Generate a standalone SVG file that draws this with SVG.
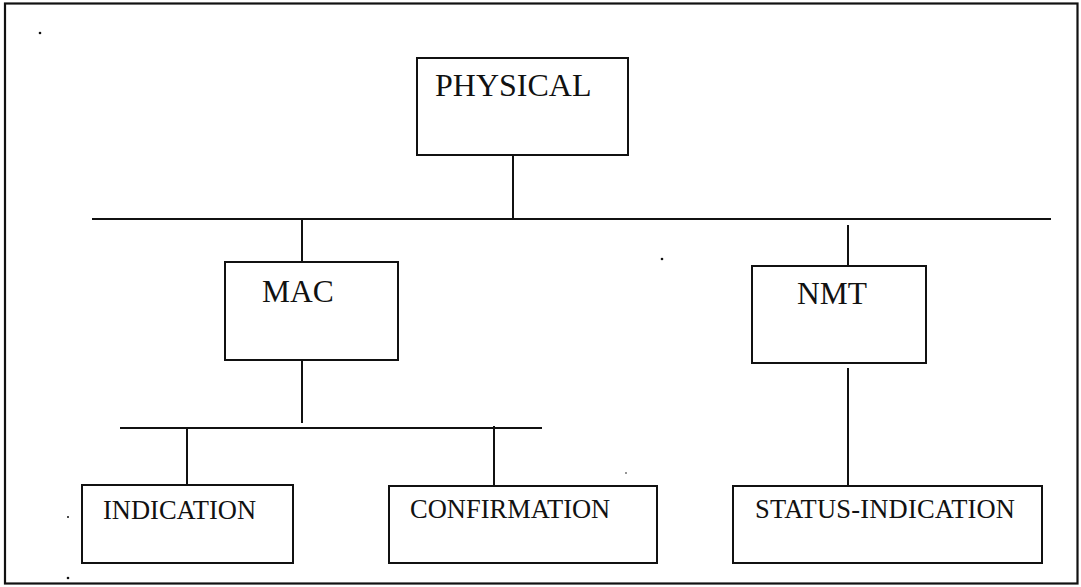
<svg xmlns="http://www.w3.org/2000/svg" width="1081" height="587" viewBox="0 0 1081 587">
  <style>
    .box { fill: #ffffff; stroke: #111111; stroke-width: 2; }
    .wire { stroke: #111111; stroke-width: 2; fill: none; }
    .speck { fill: #111111; }
  </style>

  <!-- frame -->
  <rect x="5" y="3.5" width="1072.5" height="580" fill="#ffffff" stroke="#111111" stroke-width="2.2"/>

  <!-- connectors -->
  <g id="connectors">
    <line class="wire" x1="513" y1="156" x2="513" y2="219"/>
    <line class="wire" x1="92" y1="219" x2="1051" y2="219"/>
    <line class="wire" x1="302" y1="219" x2="302" y2="262"/>
    <line class="wire" x1="848" y1="225" x2="848" y2="266"/>
    <line class="wire" x1="302" y1="361" x2="302" y2="423"/>
    <line class="wire" x1="120" y1="428" x2="542" y2="428"/>
    <line class="wire" x1="187" y1="428" x2="187" y2="485"/>
    <line class="wire" x1="494" y1="426" x2="494" y2="486"/>
    <line class="wire" x1="848" y1="368" x2="848" y2="486"/>
  </g>

  <g font-family="'Liberation Serif', 'DejaVu Serif', serif" fill="#111111">
    <g id="physical">
      <rect class="box" x="417" y="58" width="211" height="97"/>
      <text x="435" y="96" font-size="32">PHYSICAL</text>
    </g>

    <g id="mac">
      <rect class="box" x="225" y="262" width="173" height="98"/>
      <text x="262" y="302" font-size="31.5">MAC</text>
    </g>

    <g id="nmt">
      <rect class="box" x="752" y="266" width="174" height="97"/>
      <text x="797" y="304" font-size="31.5">NMT</text>
    </g>

    <g id="indication">
      <rect class="box" x="82" y="485" width="211" height="78"/>
      <text x="103" y="519" font-size="26.5">INDICATION</text>
    </g>

    <g id="confirmation">
      <rect class="box" x="389" y="486" width="268" height="77"/>
      <text x="410" y="518" font-size="26.5">CONFIRMATION</text>
    </g>

    <g id="status-indication">
      <rect class="box" x="733" y="486" width="309" height="77"/>
      <text x="755" y="518" font-size="26.5" textLength="260" lengthAdjust="spacing">STATUS-INDICATION</text>
    </g>
  </g>

  <!-- stray specks on the sheet -->
  <circle class="speck" cx="40" cy="33" r="1.3"/>
  <circle class="speck" cx="662" cy="259" r="1.3"/>
  <circle class="speck" cx="626" cy="473" r="0.8"/>
  <circle class="speck" cx="68" cy="517" r="1"/>
  <circle class="speck" cx="68" cy="578" r="1.3"/>
</svg>
